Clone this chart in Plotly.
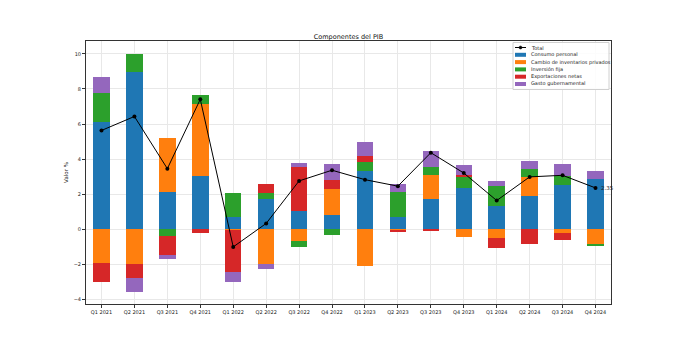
import plotly.graph_objects as go

quarters = ["Q1 2021", "Q2 2021", "Q3 2021", "Q4 2021", "Q1 2022", "Q2 2022", "Q3 2022", "Q4 2022",
            "Q1 2023", "Q2 2023", "Q3 2023", "Q4 2023", "Q1 2024", "Q2 2024", "Q3 2024", "Q4 2024"]

consumo = [6.10, 8.99, 2.10, 3.01, 0.68, 1.74, 1.06, 0.83, 3.30, 0.70, 1.74, 2.35, 1.33, 1.90, 2.54, 2.86]
inventarios = [-1.91, -2.00, 3.11, 4.14, -0.08, -1.99, -0.68, 1.44, -2.10, -0.06, 1.33, -0.44, -0.49, 1.08, -0.21, -0.84]
inversion = [1.67, 1.01, -0.38, 0.53, 1.39, 0.33, -0.34, -0.34, 0.53, 1.42, 0.47, 0.63, 1.14, 0.44, 0.47, -0.13]
exportaciones = [-1.12, -0.77, -1.10, -0.22, -2.38, 0.49, 2.49, 0.55, 0.32, -0.10, -0.06, 0.13, -0.61, -0.85, -0.42, 0.00]
gasto = [0.89, -0.80, -0.25, 0.00, -0.59, -0.27, 0.25, 0.87, 0.82, 0.47, 0.89, 0.53, 0.27, 0.47, 0.70, 0.44]
total = [5.63, 6.43, 3.45, 7.41, -1.02, 0.32, 2.75, 3.36, 2.82, 2.45, 4.36, 3.20, 1.63, 2.98, 3.07, 2.35]

series = [
    ("Consumo personal", consumo, "#1f77b4"),
    ("Cambio de inventarios privados", inventarios, "#ff7f0e"),
    ("Inversión fija", inversion, "#2ca02c"),
    ("Exportaciones netas", exportaciones, "#d62728"),
    ("Gasto gubernamental", gasto, "#9467bd"),
]

FONT = "DejaVu Sans"
x_idx = list(range(len(quarters)))

W, H = 679, 342
ML, MR, MT, MB = 86, 68, 41, 38
PW, PH = W - ML - MR, H - MT - MB


def px(xp):
    return (xp - ML) / PW


def py(yp):
    return (H - MB - yp) / PH


fig = go.Figure()
fig.add_trace(go.Scatter(
    x=x_idx, y=total, name="Total", mode="lines+markers",
    line=dict(color="black", width=1), marker=dict(color="black", size=4),
    showlegend=False,
))
for name, vals, color in series:
    fig.add_trace(go.Bar(
        x=x_idx, y=vals, name=name, marker=dict(color=color, line=dict(width=0)),
        width=0.5, showlegend=False,
    ))

fig.add_annotation(
    x=x_idx[-1], y=total[-1], text=f"{total[-1]:.2f}", showarrow=False,
    xanchor="left", yanchor="middle", xshift=3,
    font=dict(family=FONT, size=5.5, color="#222"),
)

# manual legend (matplotlib-style, compact)
shapes = []
annots = []
shapes.append(dict(type="rect", xref="paper", yref="paper",
                   x0=px(513), x1=px(609), y0=py(89.5), y1=py(42.5),
                   line=dict(color="#d0d0d0", width=1), fillcolor="rgba(255,255,255,0.85)", layer="above"))
entry_y = [47.5, 54.8, 62.1, 69.4, 76.7, 84.0]
labels = ["Total"] + [s[0] for s in series]
for i, (lab, yy) in enumerate(zip(labels, entry_y)):
    if i == 0:
        shapes.append(dict(type="line", xref="paper", yref="paper",
                           x0=px(515), x1=px(526), y0=py(yy), y1=py(yy),
                           line=dict(color="black", width=1), layer="above"))
        shapes.append(dict(type="circle", xref="paper", yref="paper",
                           x0=px(519), x1=px(522), y0=py(yy + 1.5), y1=py(yy - 1.5),
                           line=dict(color="black", width=0.5), fillcolor="black", layer="above"))
    else:
        col = series[i - 1][2]
        shapes.append(dict(type="rect", xref="paper", yref="paper",
                           x0=px(515), x1=px(526), y0=py(yy + 2), y1=py(yy - 2),
                           line=dict(width=0), fillcolor=col, layer="above"))
    annots.append(dict(x=px(529), y=py(yy), xref="paper", yref="paper", text=lab,
                       showarrow=False, xanchor="left", yanchor="middle",
                       font=dict(family=FONT, size=5, color="#222")))
for a in annots:
    fig.add_annotation(**a)

fig.update_layout(
    width=W, height=H,
    margin=dict(l=ML, r=MR, t=MT, b=MB),
    paper_bgcolor="white", plot_bgcolor="white",
    barmode="relative", bargap=0,
    font=dict(family=FONT, size=5, color="#222"),
    title=dict(text="Componentes del PIB", x=0.5, xref="paper", xanchor="center",
               y=1, yref="paper", yanchor="bottom", pad=dict(b=2),
               font=dict(family=FONT, size=6.5, color="#111")),
    showlegend=False,
    shapes=shapes,
)
fig.update_xaxes(
    tickmode="array", tickvals=x_idx, ticktext=quarters, range=[-0.47, 15.47],
    showgrid=True, gridcolor="#e8e8e8", gridwidth=1,
    showline=True, mirror=True, linecolor="#333", linewidth=1,
    ticks="outside", ticklen=3, tickcolor="#333", zeroline=False,
    tickfont=dict(family=FONT, size=5, color="#222"),
)
fig.update_yaxes(
    range=[-4.28, 10.74], tickvals=[-4, -2, 0, 2, 4, 6, 8, 10],
    showgrid=True, gridcolor="#e8e8e8", gridwidth=1,
    showline=True, mirror=True, linecolor="#333", linewidth=1,
    ticks="outside", ticklen=3, tickcolor="#333", zeroline=False,
    tickfont=dict(family=FONT, size=5, color="#222"),
    title=dict(text="Valor %", font=dict(family=FONT, size=5.5, color="#222"), standoff=4),
)

fig.write_html("out.html")
